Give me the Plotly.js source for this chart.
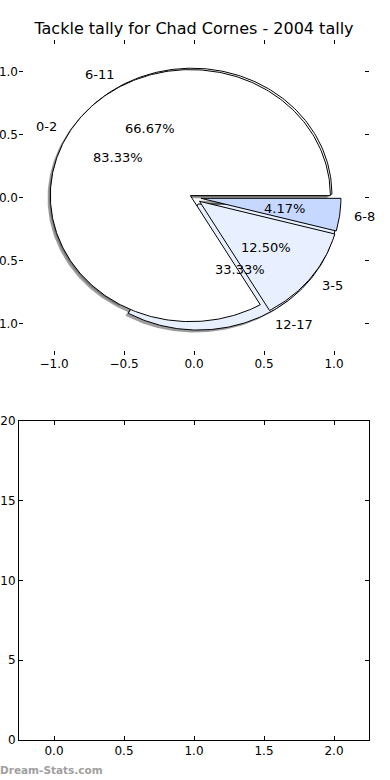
<!DOCTYPE html>
<html>
<head>
<meta charset="utf-8">
<script src="https://cdn.plot.ly/plotly-3.0.1.min.js"></script>
<style>html,body{margin:0;padding:0;background:#fff;}#chart{width:390px;height:780px;}</style>
</head>
<body>
<div id="chart"></div>
<script>
// ---- data ----
const pieALabels = ['0-2', '3-5', '6-8'];
const pieAValues = [83.33, 12.50, 4.17];
const pieBLabels = ['6-11', '12-17'];
const pieBValues = [66.67, 33.33];
const topTicks = [-1.0, -0.5, 0.0, 0.5, 1.0];
const bottomXTicks = [0.0, 0.5, 1.0, 1.5, 2.0];
const bottomYTicks = [0, 5, 10, 15, 20];
const chartTitle = 'Tackle tally for Chad Cornes - 2004 tally';
const watermark = 'Dream-Stats.com';

// ---- styles ----
const pieAColors = ['#ffffff', '#e8f0ff', '#c6d8ff'];
const pieAExplode = [0.03, 0.05, 0.05];
const pieBColors = ['#ffffff', '#e8f0ff'];
const pieBExplode = [0.03, 0.06];
const FONT = 'DejaVu Sans, sans-serif';

function buildWedges(values, explode) {
  const total = values.reduce((a, b) => a + b, 0);
  let start = 0;
  return values.map((v, i) => {
    const t1 = start, t2 = start + 360 * v / total;
    start = t2;
    const mid = (t1 + t2) / 2 * Math.PI / 180;
    const cx = explode[i] * Math.cos(mid), cy = explode[i] * Math.sin(mid);
    const xs = [cx], ys = [cy];
    const n = Math.max(2, Math.ceil(t2 - t1));
    for (let k = 0; k <= n; k++) {
      const a = (t1 + (t2 - t1) * k / n) * Math.PI / 180;
      xs.push(cx + Math.cos(a)); ys.push(cy + Math.sin(a));
    }
    xs.push(cx); ys.push(cy);
    return {xs, ys, mid, cx, cy, pct: 100 * v / total};
  });
}

const wA = buildWedges(pieAValues, pieAExplode);
const wB = buildWedges(pieBValues, pieBExplode);

const traces = [];
// shadows (below all wedges)
[wB, wA].forEach(ws => ws.forEach(w => {
  traces.push({type: 'scatter', mode: 'lines', x: w.xs.map(x => x - 0.02), y: w.ys.map(y => y - 0.02),
    fill: 'toself', fillcolor: 'rgba(77,77,77,0.55)', line: {width: 0, color: 'rgba(0,0,0,0)'},
    hoverinfo: 'skip', showlegend: false, xaxis: 'x', yaxis: 'y'});
}));
// pie B then pie A
[[wB, pieBColors], [wA, pieAColors]].forEach(([ws, cols]) => ws.forEach((w, i) => {
  traces.push({type: 'scatter', mode: 'lines', x: w.xs, y: w.ys, fill: 'toself', fillcolor: cols[i],
    line: {width: 1, color: '#000'}, hoverinfo: 'skip', showlegend: false, xaxis: 'x', yaxis: 'y'});
}));
// empty trace for lower axes
traces.push({type: 'scatter', mode: 'markers', x: [], y: [], xaxis: 'x2', yaxis: 'y2', showlegend: false});

const annotations = [];
[[wB, pieBLabels], [wA, pieALabels]].forEach(([ws, labs]) => ws.forEach((w, i) => {
  const lx = w.cx + 1.1 * Math.cos(w.mid), ly = w.cy + 1.1 * Math.sin(w.mid);
  annotations.push({x: lx, y: ly, xref: 'x', yref: 'y', text: labs[i], showarrow: false,
    borderpad: 0, borderwidth: 0,
    xanchor: lx < 0 ? 'right' : 'left', yanchor: 'middle', font: {family: FONT, size: 13, color: '#000'}});
  const px = w.cx + 0.6 * Math.cos(w.mid), py = w.cy + 0.6 * Math.sin(w.mid);
  annotations.push({x: px, y: py, xref: 'x', yref: 'y', text: w.pct.toFixed(2) + '%', showarrow: false,
    borderpad: 0, borderwidth: 0,
    xanchor: 'center', yanchor: 'middle', font: {family: FONT, size: 13, color: '#000'}});
}));
annotations.push({x: -0.054, y: -0.043, xref: 'paper', yref: 'paper', text: '<b>' + watermark + '</b>',
  showarrow: false, borderpad: 0, borderwidth: 0, xanchor: 'left', yanchor: 'middle',
  font: {family: FONT, size: 10.5, color: '#a0a0a0'}});

const tickFont = {family: FONT, size: 12, color: '#000'};
const layout = {
  width: 390, height: 780,
  margin: {l: 19, r: 21, t: 40, b: 40},
  paper_bgcolor: '#fff', plot_bgcolor: '#fff',
  showlegend: false,
  title: {text: chartTitle, font: {family: FONT, size: 16, color: '#000'}, x: 0.5, xanchor: 'center',
    y: 1 - 28 / 780, yanchor: 'middle', xref: 'paper', yref: 'container'},
  xaxis: {domain: [0, 1], anchor: 'y', range: [-1.25, 1.25], tickvals: topTicks, tickformat: '.1f',
    showline: false, mirror: 'ticks', ticks: 'inside', ticklen: 4, tickcolor: '#000', showgrid: false,
    zeroline: false, tickfont: tickFont, fixedrange: true},
  yaxis: {domain: [0.55, 1], anchor: 'x', range: [-1.25, 1.25], tickvals: topTicks, tickformat: '.1f',
    showline: false, mirror: 'ticks', ticks: 'inside', ticklen: 4, tickcolor: '#000', showgrid: false,
    zeroline: false, tickfont: tickFont, fixedrange: true},
  xaxis2: {domain: [0, 1], anchor: 'y2', range: [-0.25, 2.25], tickvals: bottomXTicks, tickformat: '.1f',
    showline: true, linecolor: '#000', linewidth: 1, mirror: 'ticks', ticks: 'inside', ticklen: 4,
    tickcolor: '#000', showgrid: false, zeroline: false, tickfont: tickFont},
  yaxis2: {domain: [0, 0.4557], anchor: 'x2', range: [0, 20], tickvals: bottomYTicks, tickformat: 'd',
    showline: true, linecolor: '#000', linewidth: 1, mirror: 'ticks', ticks: 'inside', ticklen: 4,
    tickcolor: '#000', showgrid: false, zeroline: false, tickfont: tickFont},
  annotations: annotations
};

Plotly.newPlot('chart', traces, layout, {displayModeBar: false, staticPlot: true});
</script>
</body>
</html>
